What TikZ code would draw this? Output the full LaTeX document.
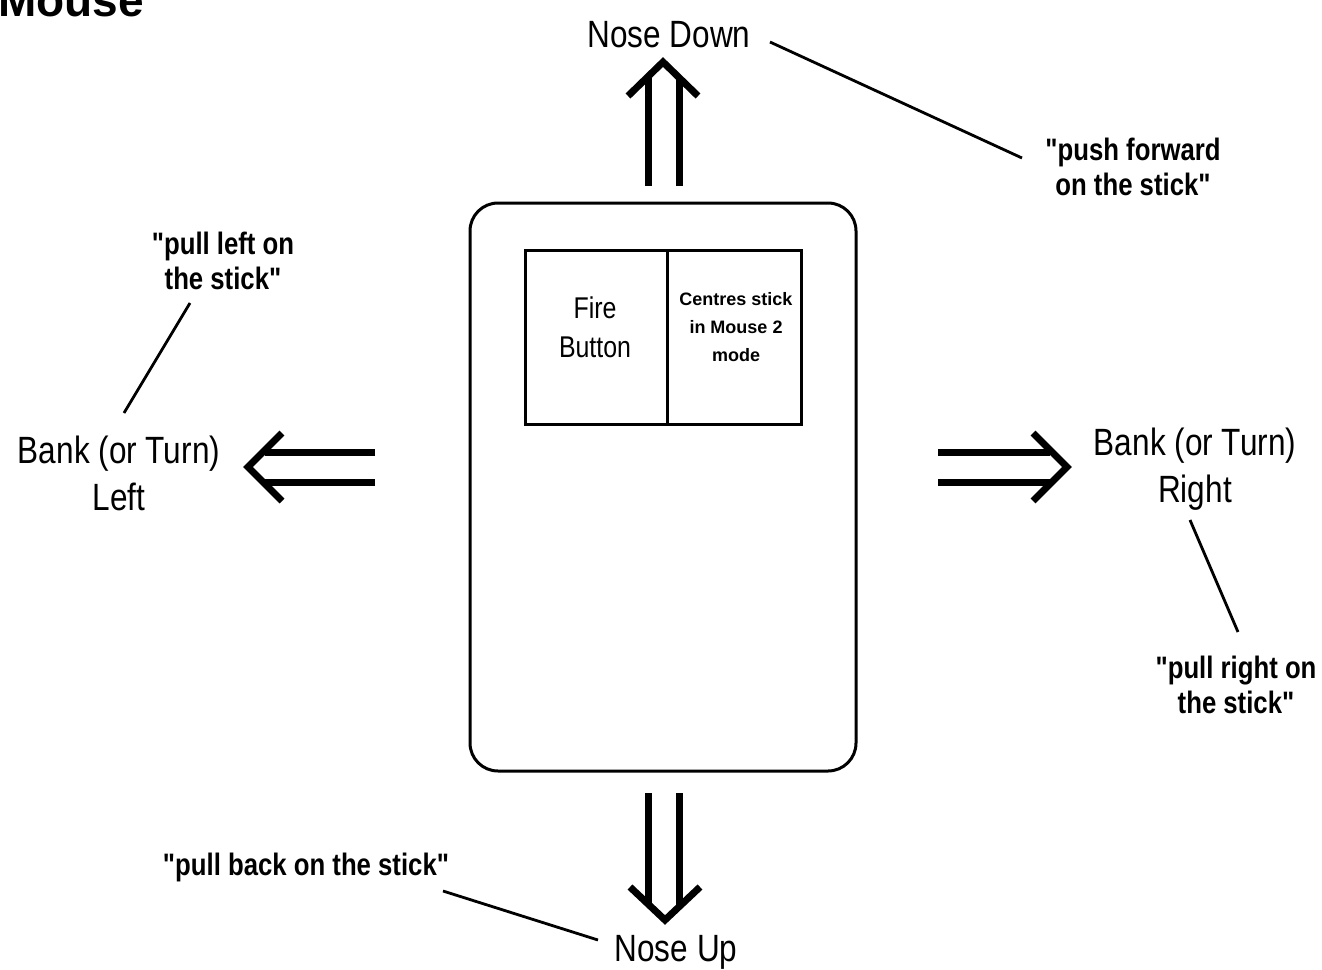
\documentclass[tikz,border=0pt]{standalone}
\usepackage{fontspec}
\setmainfont{Liberation Sans}
\newfontfamily\narrowfont[FakeStretch=0.83]{Liberation Sans}
\begin{document}
\begin{tikzpicture}[x=0.5pt,y=-0.5pt,
  lbl/.style={font=\narrowfont\fontsize{19}{23.5}\selectfont, align=center, inner sep=0pt},
  qt/.style={font=\narrowfont\bfseries\fontsize{15.5}{17.5}\selectfont, align=center, inner sep=0pt},
  arr/.style={line width=3.5pt, line join=miter, line cap=butt},
  leader/.style={line width=1.4pt},
  boxline/.style={line width=1.5pt}]
\useasboundingbox (0,0) rectangle (1322,969);
% title
\node[anchor=base west, inner sep=0pt, font=\bfseries\fontsize{23}{26}\selectfont] (title) at (-2,17) {Mouse};
% outer body
\draw[boxline, rounded corners=14pt] (470,203) rectangle (856,771);
\node[boxline, draw, minimum width=71pt, minimum height=87pt, inner sep=0pt] (fire) at (596,337) {};
\node[boxline, draw, minimum width=67pt, minimum height=87pt, inner sep=0pt] (centre) at (734,337) {};
\node[lbl, font=\narrowfont\fontsize{15}{19.5}\selectfont, anchor=base] (firetxt) at (595,357) {Fire\\Button};
\node[align=center, inner sep=0pt, font=\fontsize{9}{14}\selectfont\bfseries, anchor=base] (centretxt) at (736,361) {Centres stick\\in Mouse 2\\mode};
% arrows
\draw[arr] (648,186) -- (648,78);
\draw[arr] (679,186) -- (679,78);
\draw[arr] (628,96) -- (663,62) -- (698,96);
\draw[arr] (648,793) -- (648,905);
\draw[arr] (679,793) -- (679,905);
\draw[arr] (630,887) -- (665,920) -- (700,887);
\draw[arr] (375,452) -- (265,452);
\draw[arr] (375,482) -- (265,482);
\draw[arr] (282,433) -- (248,467) -- (282,501);
\draw[arr] (938,452) -- (1050,452);
\draw[arr] (938,482) -- (1050,482);
\draw[arr] (1033,433) -- (1067,467) -- (1033,501);
% labels
\node[lbl, anchor=base] (nosedown) at (669,47) {Nose Down};
\node[lbl, anchor=base] (noseup) at (676,961) {Nose Up};
\node[lbl, anchor=base] (bankleft) at (119,510) {Bank (or Turn)\\Left};
\node[lbl, anchor=base] (bankright) at (1195,502) {Bank (or Turn)\\Right};
\node[qt, anchor=base] (pushfwd) at (1133,195) {"push forward\\on the stick"};
\node[qt, anchor=base] (pullleft) at (223,289) {"pull left on\\the stick"};
\node[qt, anchor=base] (pullright) at (1236,713) {"pull right on\\the stick"};
\node[qt, anchor=base] (pullback) at (306,875) {"pull back on the stick"};
% leader lines
\coordinate (l1a) at (770,42); \coordinate (l1b) at (1022,158);
\coordinate (l2a) at (190,303); \coordinate (l2b) at (124,413);
\coordinate (l3a) at (1190,520); \coordinate (l3b) at (1238,632);
\coordinate (l4a) at (443,891); \coordinate (l4b) at (598,940);
\draw[leader] (l1a) -- (l1b);
\draw[leader] (l2a) -- (l2b);
\draw[leader] (l3a) -- (l3b);
\draw[leader] (l4a) -- (l4b);
\end{tikzpicture}
\end{document}
